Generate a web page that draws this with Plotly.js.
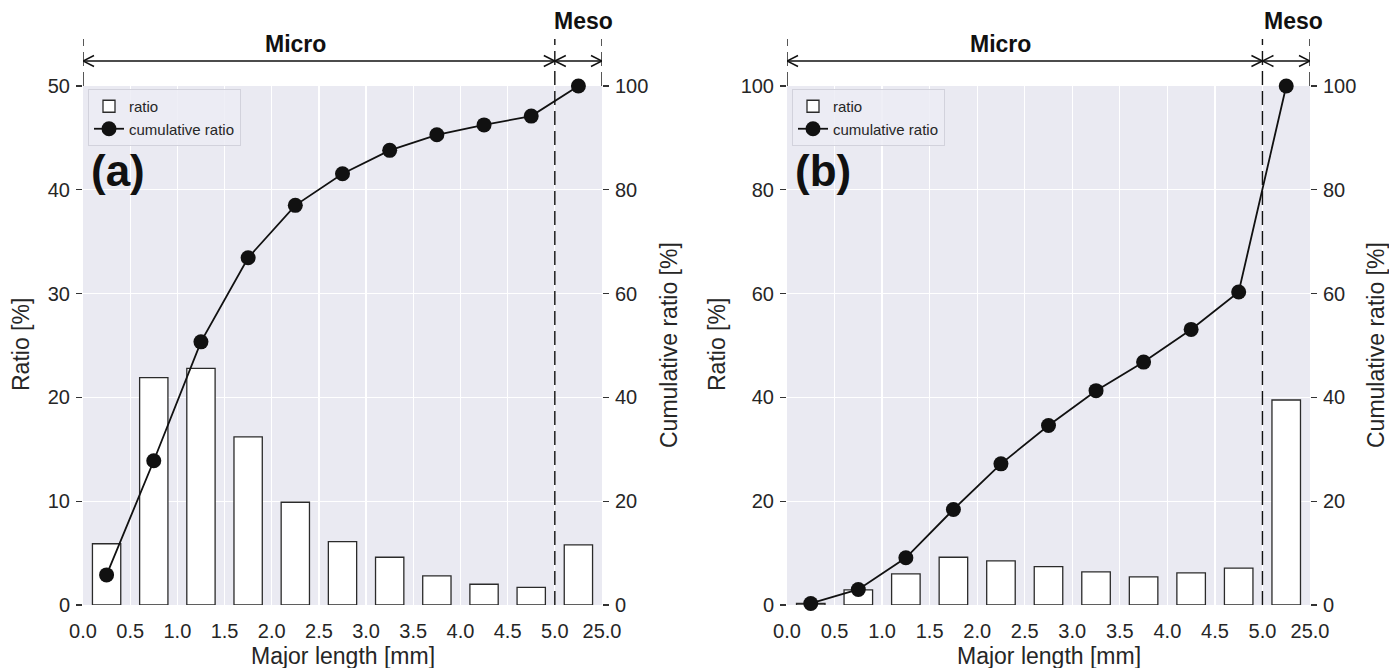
<!DOCTYPE html>
<html>
<head>
<meta charset="utf-8">
<script src="https://cdn.plot.ly/plotly-3.0.1.min.js"></script>
<style>html,body{margin:0;padding:0;background:#fff;}#chart{width:1389px;height:668px;}</style>
</head>
<body>
<div id="chart"></div>
<script>
// ---- data ----
const binLabels = ['0.0','0.5','1.0','1.5','2.0','2.5','3.0','3.5','4.0','4.5','5.0','25.0'];
const ratioA = [5.9, 21.9, 22.8, 16.2, 9.9, 6.1, 4.6, 2.8, 2.0, 1.7, 5.8];
const cumA   = [5.8, 27.8, 50.7, 66.9, 77.0, 83.1, 87.6, 90.6, 92.5, 94.2, 100];
const ratioB = [0.3, 2.9, 6.0, 9.2, 8.5, 7.4, 6.4, 5.4, 6.2, 7.1, 39.5];
const cumB   = [0.3, 3.0, 9.1, 18.4, 27.2, 34.6, 41.3, 46.8, 53.1, 60.3, 100];
const regionBounds = [0, 10, 11];   // Micro: 0–5.0 mm, Meso: 5.0–25.0 mm (bin-edge indices)

// ---- layout helpers ----
const W = 1389, H = 668;
const px = v => v / W, py = v => 1 - v / H;
const FONT = '"Liberation Sans", Arial, Helvetica, sans-serif';
const TXT = '#262626';
const centers = ratioA.map((_, i) => i + 0.5);
const tickIdx = binLabels.map((_, i) => i);

const domA = [px(83), px(602)];
const domB = [px(787), px(1310)];
const domY = [py(605), py(86)];

function xAxis(dom) {
  return {
    domain: dom, range: [0, 11], tickmode: 'array', tickvals: tickIdx, ticktext: binLabels,
    showgrid: true, gridcolor: '#ffffff', gridwidth: 1.3, zeroline: false, showline: false,
    ticks: '', ticklabelstandoff: 12, tickfont: {family: FONT, size: 20, color: TXT}, fixedrange: true
  };
}
function yAxis(range, dtick, side, anchor, overlay, grid) {
  const a = {
    domain: domY, range: range, dtick: dtick, tick0: 0, side: side, anchor: anchor,
    showgrid: grid, gridcolor: '#ffffff', gridwidth: 1.3, zeroline: false, showline: false,
    ticks: 'outside', ticklen: 6, tickwidth: 1.2, tickcolor: '#333333', ticklabelstandoff: 2,
    tickfont: {family: FONT, size: 20, color: TXT}, fixedrange: true
  };
  if (overlay) a.overlaying = overlay;
  return a;
}

const barStyle = {color: '#ffffff', line: {color: '#2b2b2b', width: 1.3}};
const lineStyle = {color: '#111111', width: 1.8};
const markerStyle = {color: '#111111', size: 15};

const traces = [
  {type: 'bar', name: 'ratio', x: centers, y: ratioA, width: 0.6, marker: barStyle,
   xaxis: 'x', yaxis: 'y', legend: 'legend'},
  {type: 'scatter', mode: 'lines+markers', name: 'cumulative ratio', x: centers, y: cumA,
   line: lineStyle, marker: markerStyle, xaxis: 'x', yaxis: 'y2', legend: 'legend', cliponaxis: false},
  {type: 'bar', name: 'ratio', x: centers, y: ratioB, width: 0.6, marker: barStyle,
   xaxis: 'x2', yaxis: 'y3', legend: 'legend2'},
  {type: 'scatter', mode: 'lines+markers', name: 'cumulative ratio', x: centers, y: cumB,
   line: lineStyle, marker: markerStyle, xaxis: 'x2', yaxis: 'y4', legend: 'legend2', cliponaxis: false}
];

// decorations: dashed region boundaries, double arrows
const shapes = [];
const topDash = py(39), arrowY = py(61);
function chevron(xr, xv, dir) {
  const w = 11, h = 5.5;
  return {type: 'path', xref: xr, yref: 'paper', xsizemode: 'pixel', ysizemode: 'pixel',
    xanchor: xv, yanchor: arrowY,
    path: `M ${dir * w},${h} L 0,0 L ${dir * w},${-h}`,
    line: {color: '#111111', width: 1.5}};
}
['x', 'x2'].forEach(xr => {
  regionBounds.forEach((b, k) => {
    const inner = (k === 1);
    shapes.push({type: 'line', xref: xr, yref: 'paper', x0: b, x1: b,
      y0: inner ? domY[0] : domY[1], y1: topDash,
      line: {color: '#111111', width: 1.4, dash: '14px,6px'}});
  });
  for (let k = 0; k < regionBounds.length - 1; k++) {
    const a = regionBounds[k], b = regionBounds[k + 1];
    shapes.push({type: 'line', xref: xr, yref: 'paper', x0: a, x1: b, y0: arrowY, y1: arrowY,
      line: {color: '#111111', width: 1.5}});
    shapes.push(chevron(xr, a, 1));
    shapes.push(chevron(xr, b, -1));
  }
});

const annotations = [];
function txt(text, x, y, opts) {
  return Object.assign({text: text, x: x, y: y, xref: 'paper', yref: 'paper', showarrow: false,
    xanchor: 'center', yanchor: 'middle',
    font: {family: FONT, size: 23, color: TXT}}, opts || {});
}
[['x', 'Micro', 4.5], ['x', 'Meso', 10.6], ['x2', 'Micro', 4.5], ['x2', 'Meso', 10.65]].forEach(([xr, t, xv]) => {
  annotations.push({text: '<b>' + t + '</b>', x: xv, xref: xr, y: t === 'Micro' ? py(44) : py(21), yref: 'paper',
    xanchor: 'center', yanchor: 'middle',
    showarrow: false, font: {family: FONT, size: 23, color: '#111111'}});
});
annotations.push(txt('<b>(a)</b>', px(89), py(171), {xanchor: 'left', font: {family: FONT, size: 44, color: '#111111'}}));
annotations.push(txt('<b>(b)</b>', px(793), py(171), {xanchor: 'left', font: {family: FONT, size: 44, color: '#111111'}}));
annotations.push(txt('Ratio [%]', px(21), py(345), {textangle: -90}));
annotations.push(txt('Cumulative ratio [%]', px(669), py(345), {textangle: -90}));
annotations.push(txt('Ratio [%]', px(717), py(345), {textangle: -90}));
annotations.push(txt('Cumulative ratio [%]', px(1376), py(345), {textangle: -90}));
annotations.push(txt('Major length [mm]', (domA[0] + domA[1]) / 2, py(656)));
annotations.push(txt('Major length [mm]', (domB[0] + domB[1]) / 2, py(656)));

function legendCfg(x) {
  return {x: x, y: py(89), xanchor: 'left', yanchor: 'top', bgcolor: 'rgba(236,236,244,0.85)',
    bordercolor: '#d2d2dc', borderwidth: 1, font: {family: FONT, size: 15, color: TXT},
    tracegroupgap: 0, itemwidth: 30};
}

const layout = {
  width: W, height: H, margin: {l: 0, r: 0, t: 0, b: 0},
  paper_bgcolor: '#ffffff', plot_bgcolor: '#eaeaf2', showlegend: true, barmode: 'overlay',
  font: {family: FONT, color: TXT},
  xaxis: xAxis(domA), xaxis2: xAxis(domB),
  yaxis: yAxis([0, 50], 10, 'left', 'x', null, true),
  yaxis2: yAxis([0, 100], 20, 'right', 'x', 'y', false),
  yaxis3: yAxis([0, 100], 20, 'left', 'x2', null, true),
  yaxis4: yAxis([0, 100], 20, 'right', 'x2', 'y3', false),
  legend: legendCfg(px(88)), legend2: legendCfg(px(792)),
  shapes: shapes, annotations: annotations
};

Plotly.newPlot('chart', traces, layout, {staticPlot: true, displayModeBar: false});
</script>
</body>
</html>
